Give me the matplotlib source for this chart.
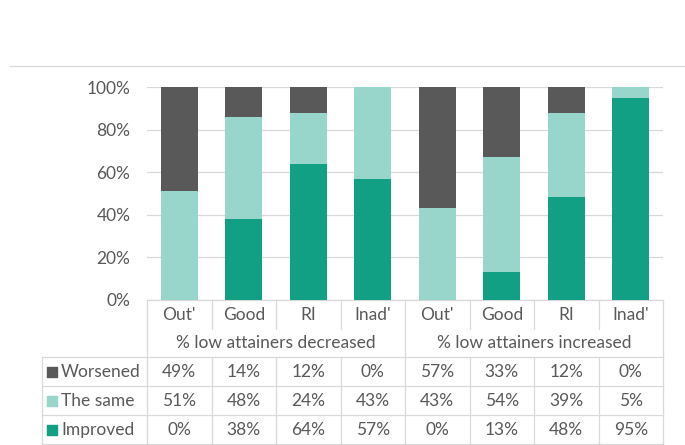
import matplotlib.pyplot as plt
from matplotlib.lines import Line2D
import numpy as np

# data
categories = ["Out'", "Good", "RI", "Inad'", "Out'", "Good", "RI", "Inad'"]
groups = ["% low attainers decreased", "% low attainers increased"]
series = ["Worsened", "The same", "Improved"]
worsened = [49, 14, 12, 0, 57, 33, 12, 0]
same = [51, 48, 24, 43, 43, 54, 39, 5]
improved = [0, 38, 64, 57, 0, 13, 48, 95]

c_wors = "#595959"
c_same = "#98D5CA"
c_impr = "#12A085"
grid_c = "#D9D9D9"
txt_c = "#595959"
fs = 12.5

plt.rcParams['font.family'] = ['Lato', 'DejaVu Sans']

W, H = 685, 445
fig = plt.figure(figsize=(W / 100, H / 100), dpi=100)

# plot area in pixels
x0, x1, ytop, ybot = 147, 663, 87, 300
ax = fig.add_axes([x0 / W, 1 - ybot / H, (x1 - x0) / W, (ybot - ytop) / H])

# 100% stacked: normalise each column
tot = np.add(np.add(worsened, same), improved)
p_impr = np.array(improved) / tot * 100
p_same = np.array(same) / tot * 100
p_wors = np.array(worsened) / tot * 100

x = np.arange(len(categories))
bw = 0.57
ax.bar(x, p_impr, bw, color=c_impr, zorder=3)
ax.bar(x, p_same, bw, bottom=p_impr, color=c_same, zorder=3)
ax.bar(x, p_wors, bw, bottom=p_impr + p_same, color=c_wors, zorder=3)

ax.set_xlim(-0.5, 7.5)
ax.set_ylim(0, 100)
ax.set_yticks(range(0, 101, 20))
ax.set_yticklabels([f"{v}%" for v in range(0, 101, 20)], color=txt_c, fontsize=fs)
ax.tick_params(axis='y', length=0, pad=12)
ax.set_xticks([])
ax.yaxis.grid(True, color=grid_c, lw=0.9, zorder=0)
for s in ax.spines.values():
    s.set_visible(False)

# helpers for the data table below the axes
colw = (x1 - x0) / len(categories)


def ya(py):
    return (ybot - py) / (ybot - ytop)


def xd(px):
    return (px - x0) / colw - 0.5


tr = ax.get_xaxis_transform()
lk = dict(color=grid_c, lw=0.9, transform=tr, clip_on=False)

r_cat, r_grp = 329, 357
rows = [357, 386, 415, 444]
left = xd(42)

ax.add_line(Line2D([-0.5, 7.5], [0, 0], **lk))
for r in rows:
    ax.add_line(Line2D([left, 7.5], [ya(r), ya(r)], **lk))
for b in [-0.5, 3.5, 7.5]:
    ax.add_line(Line2D([b, b], [0, ya(444)], **lk))
for b in [0.5, 1.5, 2.5, 4.5, 5.5, 6.5]:
    ax.add_line(Line2D([b, b], [0, ya(r_cat)], **lk))
    ax.add_line(Line2D([b, b], [ya(r_grp), ya(444)], **lk))
ax.add_line(Line2D([left, left], [ya(357), ya(444)], **lk))

tk = dict(color=txt_c, fontsize=fs, transform=tr, ha='center', va='center')
for i, c in enumerate(categories):
    ax.text(i, ya(315), c, **tk)
for g, gx in zip(groups, [1.5, 5.5]):
    ax.text(gx, ya(343), g, **tk)

vals = [worsened, same, improved]
cols = [c_wors, c_same, c_impr]
for k, (name, v, col) in enumerate(zip(series, vals, cols)):
    cy = ya((rows[k] + rows[k + 1]) / 2 + 0.5)
    ax.scatter([xd(52)], [cy], marker='s', s=50, color=col, transform=tr, clip_on=False)
    ax.text(xd(61), cy, name, color=txt_c, fontsize=fs, transform=tr, ha='left', va='center')
    for i, val in enumerate(v):
        ax.text(i, cy, f"{val}%", **tk)

# thin separator line at the top of the figure
fig.add_artist(Line2D([10 / W, 1], [1 - 66 / H, 1 - 66 / H], color=grid_c, lw=0.9))

fig.savefig("out.png", dpi=100)
